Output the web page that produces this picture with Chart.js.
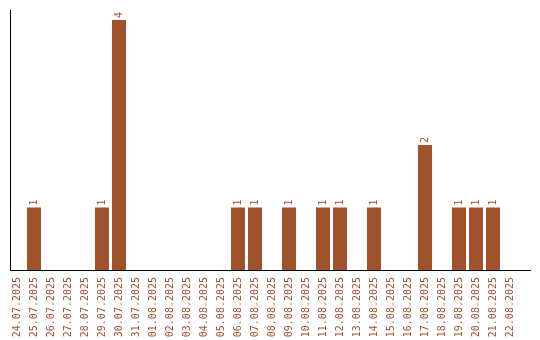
<!DOCTYPE html>
<html>
<head>
<meta charset="utf-8">
<script src="https://cdn.jsdelivr.net/npm/chart.js@4/dist/chart.umd.min.js"></script>
<style>
  html, body { margin: 0; padding: 0; background: #fff; }
  #wrap { width: 540px; height: 340px; }
</style>
</head>
<body>
<div id="wrap"><canvas id="chart"></canvas></div>
<script>
const dates = [
  '24.07.2025', '25.07.2025', '26.07.2025', '27.07.2025', '28.07.2025',
  '29.07.2025', '30.07.2025', '31.07.2025', '01.08.2025', '02.08.2025',
  '03.08.2025', '04.08.2025', '05.08.2025', '06.08.2025', '07.08.2025',
  '08.08.2025', '09.08.2025', '10.08.2025', '11.08.2025', '12.08.2025',
  '13.08.2025', '14.08.2025', '15.08.2025', '16.08.2025', '17.08.2025',
  '18.08.2025', '19.08.2025', '20.08.2025', '21.08.2025', '22.08.2025'
];
const counts = [
  0, 1, 0, 0, 0,
  1, 4, 0, 0, 0,
  0, 0, 0, 1, 1,
  0, 1, 0, 1, 1,
  0, 1, 0, 0, 2,
  0, 1, 1, 1, 0
];

const barColor = '#a0522d';
const monoFont = '"DejaVu Sans Mono", "Liberation Mono", monospace';

// axis lines, drawn a bit longer than the plot area like the original
const axisLines = {
  id: 'axisLines',
  afterDraw(chart) {
    const { ctx, chartArea } = chart;
    const y = Math.round(chartArea.bottom) + 0.5;
    ctx.save();
    ctx.strokeStyle = '#000';
    ctx.lineWidth = 1;
    ctx.beginPath();
    ctx.moveTo(10.5, 10);
    ctx.lineTo(10.5, y);
    ctx.lineTo(531, y);
    ctx.stroke();
    ctx.restore();
  }
};

// value labels above each bar, rotated
const valueLabels = {
  id: 'valueLabels',
  afterDatasetsDraw(chart) {
    const { ctx } = chart;
    const meta = chart.getDatasetMeta(0);
    ctx.save();
    ctx.fillStyle = barColor;
    ctx.font = '10px ' + monoFont;
    ctx.textAlign = 'left';
    ctx.textBaseline = 'middle';
    meta.data.forEach((bar, i) => {
      const v = counts[i];
      if (!v) return;
      ctx.save();
      ctx.translate(bar.x, bar.y - 2);
      ctx.rotate(-Math.PI / 2);
      ctx.fillText(String(v), 0, 0);
      ctx.restore();
    });
    ctx.restore();
  }
};

const chart = new Chart(document.getElementById('chart'), {
  type: 'bar',
  data: {
    labels: dates,
    datasets: [{
      data: counts,
      backgroundColor: barColor,
      borderWidth: 0,
      categoryPercentage: 1,
      barPercentage: 14 / 17
    }]
  },
  options: {
    responsive: true,
    maintainAspectRatio: false,
    animation: false,
    events: [],
    layout: { padding: { left: 8.5, right: 21.5, top: 10, bottom: 0 } },
    plugins: {
      legend: { display: false },
      tooltip: { enabled: false }
    },
    scales: {
      x: {
        grid: { display: false, drawTicks: false },
        border: { display: false },
        ticks: {
          autoSkip: false,
          minRotation: 90,
          maxRotation: 90,
          padding: 7,
          color: barColor,
          font: { family: monoFont, size: 10 }
        },
        afterFit(scale) { scale.height = 70; }
      },
      y: {
        display: false,
        min: 0,
        max: 4.16
      }
    }
  },
  plugins: [axisLines, valueLabels]
});
</script>
</body>
</html>
